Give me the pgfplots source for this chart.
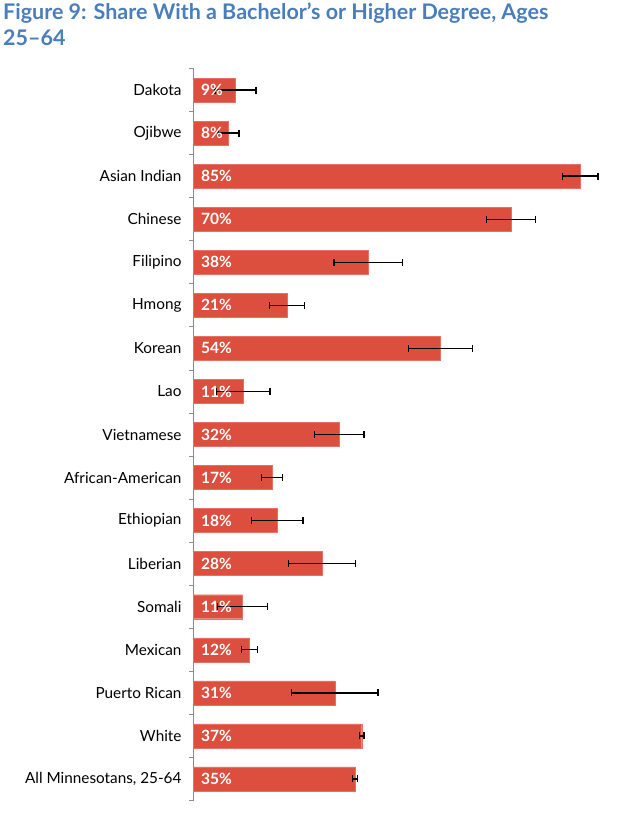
\documentclass[border=0pt]{standalone}
\usepackage{pgfplots}
\pgfplotsset{compat=1.18}
\usepackage{pgfplotstable}
\usepackage{fontspec}
\setmainfont{Lato}
\definecolor{barred}{HTML}{DC4F3F}
\definecolor{titleblue}{HTML}{4A7EBB}
\pgfplotstableread[col sep=comma]{
idx,val,err,lab
0,9.3,4.5,9
1,7.8,2.3,8
2,84.9,3.9,85
3,69.7,5.4,70
4,38.4,7.5,38
5,20.6,3.8,21
6,54.3,7.0,54
7,11.0,5.9,11
8,32.1,5.4,32
9,17.3,2.3,17
10,18.5,5.6,18
11,28.3,7.3,28
12,10.8,5.5,11
13,12.4,1.8,12
14,31.1,9.5,31
15,37.0,0.5,37
16,35.5,0.55,35
}\datatable
\begin{document}
\begin{tikzpicture}[x=1bp,y=1bp]
\path[use as bounding box] (0,0) rectangle (617,825);
\node[anchor=north west, inner sep=0pt, align=left, text=titleblue,
      font=\fontsize{21.5bp}{25.5bp}\selectfont\bfseries] at (3,822)
  {Figure 9: Share With a Bachelor’s or Higher Degree, Ages\\25--64};
\begin{axis}[
  at={(193bp,24.5bp)}, anchor=south west,
  scale only axis, width=410.4bp, height=732bp,
  xmin=0, xmax=90, ymin=-0.5, ymax=16.5, y dir=reverse,
  hide x axis,
  axis y line=left,
  y axis line style={-, draw=black!45, line width=0.8pt},
  ytick={0,...,16},
  yticklabels={Dakota,Ojibwe,Asian Indian,Chinese,Filipino,Hmong,Korean,Lao,Vietnamese,African-American,Ethiopian,Liberian,Somali,Mexican,Puerto Rican,White,{All Minnesotans, 25-64}},
  major tick length=0pt,
  minor ytick={-0.5,0.5,...,16.5},
  minor tick length=4bp,
  tick align=outside,
  minor tick style={draw=black!45, line width=0.8pt},
  yticklabel style={font=\fontsize{15.3bp}{18bp}\selectfont, xshift=-8bp},
  clip=false,
]
\addplot[xbar, bar width=24bp, fill=barred, draw=barred!80!white, line width=0.4pt,
  error bars/.cd, x dir=both, x explicit,
  error bar style={black, line width=1.3pt},
  error mark options={rotate=90, mark size=3.5bp, line width=1.3pt, black}]
  table[x=val, y=idx, x error=err] {\datatable};
\addplot[draw=none, no marks,
  nodes near coords={\pgfplotspointmeta\%},
  point meta=explicit symbolic,
  nodes near coords style={anchor=west, xshift=8bp, text=white,
     font=\fontsize{15.5bp}{17bp}\selectfont\bfseries, inner sep=0pt}]
  table[x expr=0, y=idx, meta=lab] {\datatable};
\end{axis}
\end{tikzpicture}
\end{document}
